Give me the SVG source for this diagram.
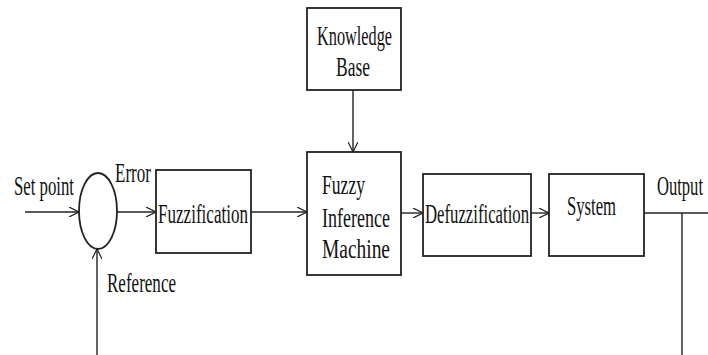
<svg xmlns="http://www.w3.org/2000/svg" width="708" height="355" viewBox="0 0 708 355">
<style>
.box{fill:#fff;stroke:#222;stroke-width:1.8}
.ln{fill:none;stroke:#222;stroke-width:1.4}
.t{font-family:"Liberation Serif","Times New Roman",serif;font-size:27px;fill:#111}
</style>
<defs>
<marker id="arr" viewBox="0 0 10 10" refX="10" refY="5" markerWidth="10" markerHeight="10" markerUnits="userSpaceOnUse" orient="auto">
<path d="M0,0 L10,5 L0,10" fill="none" stroke="#222" stroke-width="1.2"/>
</marker>
</defs>
<rect width="708" height="355" fill="#fff"/>
<g id="connectors">
<line class="ln" x1="25" y1="212" x2="79" y2="212" marker-end="url(#arr)"/>
<line class="ln" x1="117" y1="212" x2="156" y2="212" marker-end="url(#arr)"/>
<line class="ln" x1="97" y1="355" x2="97" y2="249" marker-end="url(#arr)"/>
<line class="ln" x1="251" y1="212" x2="307" y2="212" marker-end="url(#arr)"/>
<line class="ln" x1="353" y1="90" x2="353" y2="152" marker-end="url(#arr)"/>
<line class="ln" x1="401" y1="213" x2="423" y2="213" marker-end="url(#arr)"/>
<line class="ln" x1="531" y1="213" x2="549" y2="213" marker-end="url(#arr)"/>
<line class="ln" x1="644" y1="213" x2="708" y2="213"/>
<line class="ln" x1="682" y1="213" x2="682" y2="355"/>
</g>
<g id="sum">
<ellipse class="box" cx="98" cy="211" rx="19" ry="38" stroke-width="1.4"/>
</g>
<g id="labels">
<text class="t" x="14" y="195" textLength="60" lengthAdjust="spacingAndGlyphs">Set point</text>
<text class="t" x="115" y="182" textLength="36" lengthAdjust="spacingAndGlyphs">Error</text>
<text class="t" x="107" y="292" textLength="69" lengthAdjust="spacingAndGlyphs">Reference</text>
<text class="t" x="657" y="195" textLength="46" lengthAdjust="spacingAndGlyphs">Output</text>
</g>
<g id="fuzzification">
<rect class="box" x="156" y="170" width="95" height="83"/>
<text class="t" x="158" y="223" textLength="90" lengthAdjust="spacingAndGlyphs">Fuzzification</text>
</g>
<g id="knowledge-base">
<rect class="box" x="307" y="8" width="94" height="82"/>
<text class="t" x="317" y="45" textLength="75" lengthAdjust="spacingAndGlyphs">Knowledge</text>
<text class="t" x="336" y="76" textLength="34" lengthAdjust="spacingAndGlyphs">Base</text>
</g>
<g id="fuzzy-inference-machine">
<rect class="box" x="307" y="152" width="94" height="123"/>
<text class="t" x="322" y="194" textLength="43" lengthAdjust="spacingAndGlyphs">Fuzzy</text>
<text class="t" x="322" y="227" textLength="68" lengthAdjust="spacingAndGlyphs">Inference</text>
<text class="t" x="322" y="258" textLength="68" lengthAdjust="spacingAndGlyphs">Machine</text>
</g>
<g id="defuzzification">
<rect class="box" x="423" y="174" width="108" height="82"/>
<text class="t" x="425" y="223" textLength="104" lengthAdjust="spacingAndGlyphs">Defuzzification</text>
</g>
<g id="system">
<rect class="box" x="549" y="174" width="95" height="82"/>
<text class="t" x="567" y="215" textLength="49" lengthAdjust="spacingAndGlyphs">System</text>
</g>
</svg>
